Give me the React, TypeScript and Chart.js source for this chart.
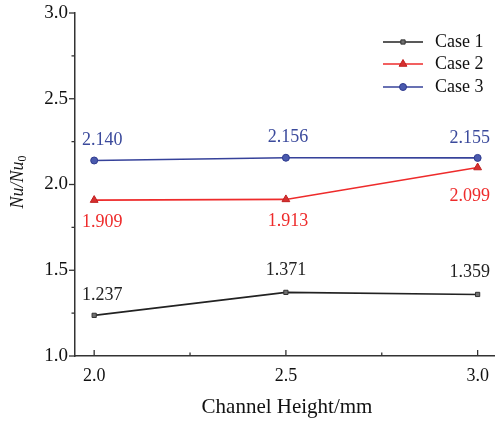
import React, { useEffect, useRef } from "react";
import { Chart, registerables } from "chart.js";
import { drawPoint } from "chart.js/helpers";
Chart.register(...registerables);

const channelHeights = [2.0, 2.5, 3.0];
const case1 = [1.237, 1.371, 1.359];
const case2 = [1.909, 1.913, 2.099];
const case3 = [2.14, 2.156, 2.155];
const seriesNames = ["Case 1", "Case 2", "Case 3"];
const yTicks = [1.0, 1.5, 2.0, 2.5, 3.0];
const yMinorTicks = [1.25, 1.75, 2.25, 2.75];
const xTicks = [2.0, 2.5, 3.0];
const xMinorTicks = [2.25, 2.75];

const FONT = "'Liberation Serif', 'Times New Roman', serif";
const colors = ["#222222", "#ee2b2b", "#36429a"];
const pointFills = ["#707070", "#d63030", "#4a5aae"];
const pointEdges = ["#333333", "#c02020", "#2e3a8e"];
const labelColors = ["#222222", "#ee2b2b", "#3b4a9c"];
const pointStyles: any[] = ["rect", "triangle", "circle"];
const pointRadii = [3, 4.5, 3.5];
// label offsets (style), per series per point: [dx, dy]
const labelOffsets = [
  [[8, -20], [0, -22], [-8, -22]],
  [[8, 22], [2, 22], [-8, 29]],
  [[8, -20], [2, -20], [-8, -20]],
];

const overlay = {
  id: "overlay",
  afterDraw(chart: any) {
    const ctx = chart.ctx;
    const xs = chart.scales.x;
    const ys = chart.scales.y;
    const area = chart.chartArea;
    ctx.save();
    ctx.strokeStyle = "#333";
    ctx.lineWidth = 1.3;
    yTicks.forEach((v) => {
      const y = ys.getPixelForValue(v);
      ctx.beginPath();
      ctx.moveTo(area.left, y);
      ctx.lineTo(area.left - 6, y);
      ctx.stroke();
    });
    yMinorTicks.forEach((v) => {
      const y = ys.getPixelForValue(v);
      ctx.beginPath();
      ctx.moveTo(area.left, y);
      ctx.lineTo(area.left - 3.5, y);
      ctx.stroke();
    });
    xTicks.forEach((v) => {
      const x = xs.getPixelForValue(v);
      ctx.beginPath();
      ctx.moveTo(x, area.bottom);
      ctx.lineTo(x, area.bottom - 6);
      ctx.stroke();
    });
    xMinorTicks.forEach((v) => {
      const x = xs.getPixelForValue(v);
      ctx.beginPath();
      ctx.moveTo(x, area.bottom);
      ctx.lineTo(x, area.bottom - 3.5);
      ctx.stroke();
    });

    ctx.font = `18px ${FONT}`;
    ctx.textAlign = "center";
    ctx.textBaseline = "middle";
    const all = [case1, case2, case3];
    all.forEach((arr, si) => {
      ctx.fillStyle = labelColors[si];
      arr.forEach((v, i) => {
        const [dx, dy] = labelOffsets[si][i];
        const x = xs.getPixelForValue(channelHeights[i]) + dx;
        const y = ys.getPixelForValue(v) + dy;
        ctx.fillText(v.toFixed(3), x, y);
      });
    });

    const lx0 = 383, lx1 = 423;
    const ly = [42, 64, 87];
    seriesNames.forEach((name, si) => {
      ctx.strokeStyle = colors[si];
      ctx.lineWidth = 1.6;
      ctx.beginPath();
      ctx.moveTo(lx0, ly[si]);
      ctx.lineTo(lx1, ly[si]);
      ctx.stroke();
      ctx.fillStyle = pointFills[si];
      ctx.strokeStyle = pointEdges[si];
      ctx.lineWidth = 1;
      drawPoint(ctx, { pointStyle: pointStyles[si], radius: pointRadii[si], borderWidth: 1, rotation: 0 } as any, (lx0 + lx1) / 2, ly[si]);
      ctx.fillStyle = "#111";
      ctx.textAlign = "left";
      ctx.font = `18px ${FONT}`;
      ctx.fillText(name, 435, ly[si]);
    });

    ctx.save();
    ctx.translate(18, 182);
    ctx.rotate(-Math.PI / 2);
    ctx.fillStyle = "#111";
    ctx.textBaseline = "middle";
    const main = "Nu/Nu";
    ctx.font = `italic 18px ${FONT}`;
    const w1 = ctx.measureText(main).width;
    ctx.font = `12px ${FONT}`;
    const w2 = ctx.measureText("0").width;
    const start = -(w1 + w2) / 2;
    ctx.textAlign = "left";
    ctx.font = `italic 18px ${FONT}`;
    ctx.fillText(main, start, 0);
    ctx.font = `12px ${FONT}`;
    ctx.fillText("0", start + w1, 5);
    ctx.restore();

    ctx.fillStyle = "#111";
    ctx.textAlign = "center";
    ctx.font = `21px ${FONT}`;
    ctx.fillText("Channel Height/mm", 287, 407);
    ctx.restore();
  },
};

export default function App() {
  const ref = useRef<HTMLCanvasElement | null>(null);
  useEffect(() => {
    document.body.style.margin = "0";
    const datasets = [case1, case2, case3].map((arr, si) => ({
      label: seriesNames[si],
      data: arr.map((v, i) => ({ x: channelHeights[i], y: v })),
      showLine: true,
      borderColor: colors[si],
      backgroundColor: pointFills[si],
      borderWidth: 1.6,
      pointStyle: pointStyles[si],
      pointRadius: pointRadii[si],
      pointBorderColor: pointEdges[si],
      pointBorderWidth: 1,
    }));
    const chart = new Chart(ref.current as HTMLCanvasElement, {
      type: "scatter",
      data: { datasets },
      options: {
        animation: false,
        responsive: false,
        maintainAspectRatio: false,
        layout: { padding: { top: 13, right: 0, left: 0, bottom: 0 } },
        plugins: { legend: { display: false }, tooltip: { enabled: false } },
        scales: {
          x: {
            type: "linear",
            min: 1.95,
            max: 3.044,
            afterBuildTicks: (s: any) => {
              s.ticks = xTicks.map((v) => ({ value: v }));
            },
            afterFit: (s: any) => {
              s.height = 65;
              s.paddingLeft = 0;
              s.paddingRight = 0;
            },
            grid: { display: false, drawTicks: false },
            border: { display: true, color: "#333", width: 1.5 },
            ticks: {
              padding: 9,
              color: "#111",
              font: { family: FONT, size: 18 },
              callback: (v: any) => Number(v).toFixed(1),
              maxRotation: 0,
            },
          },
          y: {
            type: "linear",
            min: 1.0,
            max: 3.0,
            afterBuildTicks: (s: any) => {
              s.ticks = yTicks.map((v) => ({ value: v }));
            },
            afterFit: (s: any) => {
              s.width = 75;
              s.paddingTop = 0;
              s.paddingBottom = 0;
            },
            grid: { display: false, drawTicks: false },
            border: { display: true, color: "#333", width: 1.5 },
            ticks: {
              padding: 7,
              color: "#111",
              font: { family: FONT, size: 19 },
              callback: (v: any) => Number(v).toFixed(1),
            },
          },
        },
      },
      plugins: [overlay],
    });
    return () => chart.destroy();
  }, []);
  return (
    <div style={{ width: 500, height: 421 }}>
      <canvas ref={ref} width={500} height={421} style={{ width: 500, height: 421, display: "block" }} />
    </div>
  );
}
